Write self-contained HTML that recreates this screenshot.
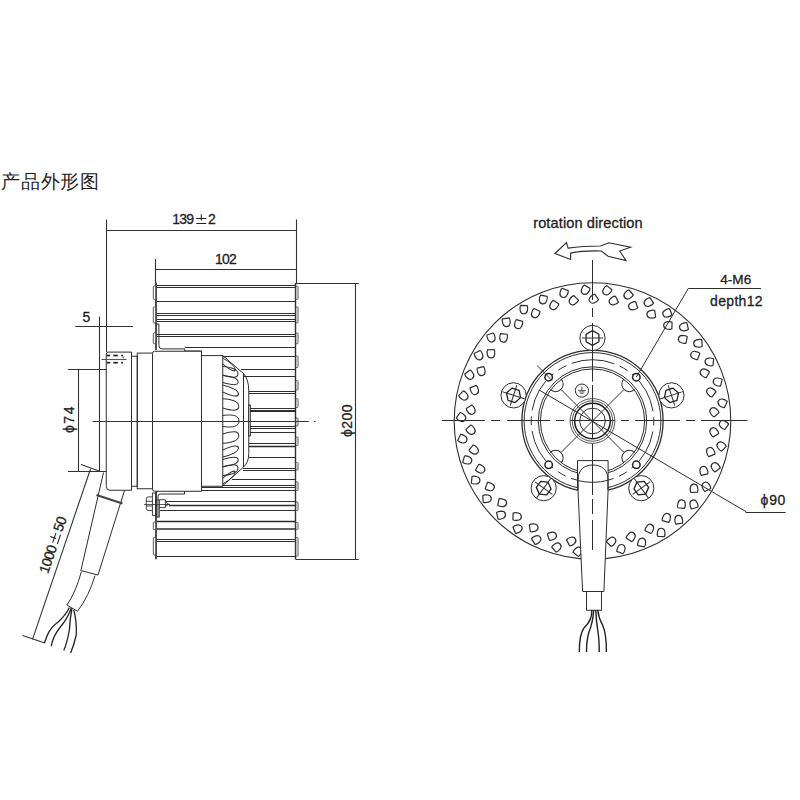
<!DOCTYPE html>
<html><head><meta charset="utf-8"><style>
html,body{margin:0;padding:0;background:#fff;width:800px;height:800px;overflow:hidden}
svg{display:block}
</style></head><body>
<svg width="800" height="800" viewBox="0 0 800 800">
<rect width="800" height="800" fill="#fff"/>
<line x1="106.50" y1="219.50" x2="106.50" y2="352.00" stroke="#333" stroke-width="1.1" />
<line x1="106.25" y1="230.50" x2="296.25" y2="230.50" stroke="#333" stroke-width="1.1" />
<line x1="296.50" y1="219.50" x2="296.50" y2="283.00" stroke="#333" stroke-width="1.1" />
<line x1="155.50" y1="259.00" x2="155.50" y2="283.00" stroke="#333" stroke-width="1.1" />
<line x1="155.50" y1="269.50" x2="296.25" y2="269.50" stroke="#333" stroke-width="1.1" />
<line x1="296.00" y1="283.50" x2="358.75" y2="283.50" stroke="#333" stroke-width="1.1" />
<line x1="296.00" y1="559.50" x2="358.75" y2="559.50" stroke="#333" stroke-width="1.1" />
<line x1="355.50" y1="283.00" x2="355.50" y2="559.40" stroke="#333" stroke-width="1.1" />
<line x1="75.25" y1="326.50" x2="133.00" y2="326.50" stroke="#333" stroke-width="1.1" />
<line x1="99.50" y1="316.50" x2="99.50" y2="471.50" stroke="#333" stroke-width="1.1" />
<line x1="68.10" y1="369.50" x2="106.25" y2="369.50" stroke="#333" stroke-width="1.1" />
<line x1="68.00" y1="471.50" x2="106.25" y2="471.50" stroke="#333" stroke-width="1.1" />
<line x1="78.50" y1="369.75" x2="78.50" y2="471.50" stroke="#333" stroke-width="1.1" />
<line x1="81.00" y1="464.50" x2="100.50" y2="471.50" stroke="#333" stroke-width="1.1" />
<line x1="90.50" y1="469.00" x2="32.50" y2="639.40" stroke="#333" stroke-width="1.1" />
<line x1="22.50" y1="635.60" x2="45.00" y2="643.10" stroke="#333" stroke-width="1.1" />
<line x1="157.00" y1="285.50" x2="295.60" y2="285.50" stroke="#2e2e2e" stroke-width="1.0" />
<line x1="157.00" y1="287.50" x2="295.60" y2="287.50" stroke="#2e2e2e" stroke-width="1.0" />
<line x1="157.00" y1="301.50" x2="295.60" y2="301.50" stroke="#2e2e2e" stroke-width="1.2" />
<line x1="157.00" y1="313.50" x2="295.60" y2="313.50" stroke="#2e2e2e" stroke-width="1.0" />
<line x1="157.00" y1="315.50" x2="295.60" y2="315.50" stroke="#2e2e2e" stroke-width="1.0" />
<line x1="157.00" y1="319.50" x2="295.60" y2="319.50" stroke="#2e2e2e" stroke-width="1.0" />
<line x1="157.00" y1="321.50" x2="295.60" y2="321.50" stroke="#2e2e2e" stroke-width="1.0" />
<line x1="157.00" y1="334.50" x2="295.60" y2="334.50" stroke="#2e2e2e" stroke-width="1.0" />
<line x1="157.00" y1="336.50" x2="295.60" y2="336.50" stroke="#2e2e2e" stroke-width="1.0" />
<line x1="157.00" y1="490.50" x2="295.60" y2="490.50" stroke="#2e2e2e" stroke-width="1.0" />
<line x1="157.00" y1="521.50" x2="295.60" y2="521.50" stroke="#2e2e2e" stroke-width="1.4" />
<line x1="157.00" y1="529.00" x2="295.60" y2="529.00" stroke="#2e2e2e" stroke-width="1.4" />
<line x1="157.00" y1="539.50" x2="295.60" y2="539.50" stroke="#2e2e2e" stroke-width="1.0" />
<line x1="157.00" y1="541.50" x2="295.60" y2="541.50" stroke="#2e2e2e" stroke-width="1.0" />
<line x1="157.00" y1="556.50" x2="295.60" y2="556.50" stroke="#2e2e2e" stroke-width="1.0" />
<line x1="184.70" y1="347.50" x2="295.60" y2="347.50" stroke="#2e2e2e" stroke-width="1.0" />
<line x1="222.75" y1="356.50" x2="295.60" y2="356.50" stroke="#2e2e2e" stroke-width="1.0" />
<line x1="241.00" y1="369.50" x2="295.60" y2="369.50" stroke="#2e2e2e" stroke-width="1.0" />
<line x1="244.00" y1="376.50" x2="295.60" y2="376.50" stroke="#2e2e2e" stroke-width="1.0" />
<line x1="248.75" y1="391.50" x2="295.60" y2="391.50" stroke="#2e2e2e" stroke-width="1.0" />
<line x1="248.75" y1="393.50" x2="295.60" y2="393.50" stroke="#2e2e2e" stroke-width="1.0" />
<line x1="250.00" y1="408.50" x2="295.60" y2="408.50" stroke="#2e2e2e" stroke-width="1.2" />
<line x1="250.00" y1="411.00" x2="295.60" y2="411.00" stroke="#2e2e2e" stroke-width="1.8" />
<line x1="250.00" y1="426.50" x2="295.60" y2="426.50" stroke="#2e2e2e" stroke-width="1.0" />
<line x1="250.00" y1="428.50" x2="295.60" y2="428.50" stroke="#2e2e2e" stroke-width="1.0" />
<line x1="250.00" y1="432.50" x2="295.60" y2="432.50" stroke="#2e2e2e" stroke-width="1.0" />
<line x1="249.00" y1="443.50" x2="295.60" y2="443.50" stroke="#2e2e2e" stroke-width="1.0" />
<line x1="249.00" y1="446.50" x2="295.60" y2="446.50" stroke="#2e2e2e" stroke-width="1.6" />
<line x1="248.75" y1="457.50" x2="295.60" y2="457.50" stroke="#2e2e2e" stroke-width="1.0" />
<line x1="243.00" y1="468.50" x2="295.60" y2="468.50" stroke="#2e2e2e" stroke-width="1.0" />
<line x1="243.00" y1="470.50" x2="295.60" y2="470.50" stroke="#2e2e2e" stroke-width="1.0" />
<line x1="232.00" y1="479.50" x2="295.60" y2="479.50" stroke="#2e2e2e" stroke-width="1.0" />
<line x1="201.50" y1="485.50" x2="295.60" y2="485.50" stroke="#2e2e2e" stroke-width="1.0" />
<line x1="201.50" y1="487.50" x2="295.60" y2="487.50" stroke="#2e2e2e" stroke-width="1.0" />
<line x1="165.50" y1="501.50" x2="295.60" y2="501.50" stroke="#2e2e2e" stroke-width="1.0" />
<line x1="169.00" y1="505.50" x2="295.60" y2="505.50" stroke="#2e2e2e" stroke-width="1.5" />
<line x1="160.00" y1="510.50" x2="295.60" y2="510.50" stroke="#2e2e2e" stroke-width="1.0" />
<line x1="156.00" y1="282.50" x2="156.00" y2="350.00" stroke="#222" stroke-width="1.6" />
<line x1="156.00" y1="491.80" x2="156.00" y2="559.30" stroke="#222" stroke-width="1.6" />
<line x1="295.50" y1="283.00" x2="295.50" y2="559.40" stroke="#2e2e2e" stroke-width="1.4" />
<rect x="153.30" y="286.00" width="2.40" height="13.40" rx="0.8" stroke="#333" stroke-width="0.8" fill="#fff"/>
<rect x="153.30" y="306.90" width="2.40" height="16.10" rx="0.8" stroke="#333" stroke-width="0.8" fill="#fff"/>
<rect x="153.30" y="333.00" width="2.40" height="10.75" rx="0.8" stroke="#333" stroke-width="0.8" fill="#fff"/>
<rect x="153.30" y="522.00" width="2.40" height="7.50" rx="0.8" stroke="#333" stroke-width="0.8" fill="#fff"/>
<rect x="153.30" y="537.40" width="2.40" height="17.40" rx="0.8" stroke="#333" stroke-width="0.8" fill="#fff"/>
<rect x="295.90" y="286.00" width="2.10" height="13.40" rx="0.8" stroke="#333" stroke-width="0.8" fill="#fff"/>
<rect x="295.90" y="306.90" width="2.10" height="16.10" rx="0.8" stroke="#333" stroke-width="0.8" fill="#fff"/>
<rect x="295.90" y="333.00" width="2.10" height="10.75" rx="0.8" stroke="#333" stroke-width="0.8" fill="#fff"/>
<rect x="295.90" y="356.00" width="2.10" height="11.50" rx="0.8" stroke="#333" stroke-width="0.8" fill="#fff"/>
<rect x="295.90" y="380.60" width="2.10" height="9.40" rx="0.8" stroke="#333" stroke-width="0.8" fill="#fff"/>
<rect x="295.90" y="398.75" width="2.10" height="8.75" rx="0.8" stroke="#333" stroke-width="0.8" fill="#fff"/>
<rect x="295.90" y="418.00" width="2.10" height="8.00" rx="0.8" stroke="#333" stroke-width="0.8" fill="#fff"/>
<rect x="295.90" y="437.00" width="2.10" height="8.60" rx="0.8" stroke="#333" stroke-width="0.8" fill="#fff"/>
<rect x="295.90" y="462.50" width="2.10" height="7.50" rx="0.8" stroke="#333" stroke-width="0.8" fill="#fff"/>
<rect x="295.90" y="481.90" width="2.10" height="8.70" rx="0.8" stroke="#333" stroke-width="0.8" fill="#fff"/>
<rect x="295.90" y="501.90" width="2.10" height="8.70" rx="0.8" stroke="#333" stroke-width="0.8" fill="#fff"/>
<rect x="295.90" y="522.50" width="2.10" height="6.90" rx="0.8" stroke="#333" stroke-width="0.8" fill="#fff"/>
<rect x="295.90" y="537.50" width="2.10" height="18.75" rx="0.8" stroke="#333" stroke-width="0.8" fill="#fff"/>
<path d="M156.5,324 L158.9,324 L158.9,345.5 Q158.9,348.9 162,348.9 L184.7,348.9 L184.7,351 L201.5,351" stroke="#2e2e2e" stroke-width="1" fill="none" />
<path d="M156,491.8 L158,491.8 M158,517.1 L158,496 Q158,494 160.5,494 L184.5,494 L184.5,490.7 L201.5,490.7" stroke="#2e2e2e" stroke-width="1" fill="none" />
<rect x="155.80" y="500.00" width="3.50" height="17.10" rx="0" stroke="#2e2e2e" stroke-width="0.9" fill="none"/>
<rect x="152.40" y="493.00" width="3.40" height="22.40" rx="0" stroke="#2e2e2e" stroke-width="0.9" fill="none"/>
<path d="M152.4,496.9 L148,496.9 Q146.25,496.9 146.25,499 L146.25,508.3 Q146.25,510.4 148,510.4 L152.4,510.4 M146.25,501.3 L152.4,501.3 M146.25,506 L152.4,506" stroke="#2e2e2e" stroke-width="0.9" fill="none" />
<path d="M159.3,499.7 L165.4,499.7 L165.4,507.6 L159.3,507.6 M165.4,502 L168.75,504.2 L165.4,506.4" stroke="#2e2e2e" stroke-width="0.9" fill="none" />
<line x1="144.00" y1="504.50" x2="170.00" y2="504.50" stroke="#2e2e2e" stroke-width="0.8" />
<path d="M106.25,354 Q106.25,352.1 108.25,352.1 L131.5,352.1 L131.5,490.25 L110,490.25 Q106.25,490.25 106.25,486.5 Z" stroke="#2e2e2e" stroke-width="1" fill="none" />
<line x1="106.5" y1="355.5" x2="110.2" y2="355.5" stroke="#222" stroke-width="1.7"/>
<line x1="113.3" y1="355.5" x2="117.8" y2="355.5" stroke="#222" stroke-width="1.7"/>
<line x1="121.2" y1="355.5" x2="122.9" y2="355.5" stroke="#222" stroke-width="1.7"/>
<line x1="106.5" y1="362.7" x2="110.2" y2="362.7" stroke="#222" stroke-width="1.7"/>
<line x1="113.3" y1="362.7" x2="117.8" y2="362.7" stroke="#222" stroke-width="1.7"/>
<line x1="121.2" y1="362.7" x2="122.9" y2="362.7" stroke="#222" stroke-width="1.7"/>
<line x1="101.50" y1="359.50" x2="126.50" y2="359.50" stroke="#555" stroke-width="1.1" />
<path d="M122,355.6 Q123.5,356.5 123.2,358.2" stroke="#2e2e2e" stroke-width="0.9" fill="none" />
<rect x="131.50" y="356.25" width="5.75" height="130.00" rx="0" stroke="#2e2e2e" stroke-width="1" fill="none"/>
<rect x="137.25" y="353.10" width="15.25" height="135.65" rx="0" stroke="#2e2e2e" stroke-width="1" fill="none"/>
<path d="M152.5,353.5 Q152.5,351.25 154.5,351.25 L201.5,351.25 L201.5,491.25 L154.5,491.25 Q152.5,491.25 152.5,489 Z" stroke="#2e2e2e" stroke-width="1" fill="#fff" />
<rect x="201.50" y="355.60" width="21.25" height="130.65" rx="0" stroke="#2e2e2e" stroke-width="1" fill="#fff"/>
<path d="M222.75,355.6 L243.75,373.75 Q248.75,380 248.75,390.6 L248.75,453.75 Q248.75,462 243.75,466.9 L222.75,485.6" stroke="#2e2e2e" stroke-width="1" fill="none" />
<line x1="243.50" y1="373.75" x2="243.50" y2="466.90" stroke="#2e2e2e" stroke-width="1" />
<rect x="248.75" y="405.00" width="1.80" height="31.00" rx="0" stroke="#2e2e2e" stroke-width="0.8" fill="none"/>
<path d="M0,-3.00 C7.35,-3.75 12.25,-3.15 12.25,0 C12.25,3.15 7.35,3.75 0,3.00" transform="matrix(1,0.6939,0,1,222.75,361.00)" stroke="#2e2e2e" stroke-width="1" fill="none"/>
<path d="M0,-4.25 C9.15,-5.31 15.25,-4.46 15.25,0 C15.25,4.46 9.15,5.31 0,4.25" transform="matrix(1,0.2000,0,1,222.75,370.75)" stroke="#2e2e2e" stroke-width="1" fill="none"/>
<path d="M0,-3.50 C9.27,-4.38 15.45,-3.68 15.45,0 C15.45,3.68 9.27,4.38 0,3.50" transform="matrix(1,0.1942,0,1,222.75,379.00)" stroke="#2e2e2e" stroke-width="1" fill="none"/>
<path d="M0,-3.50 C9.39,-4.38 15.65,-3.68 15.65,0 C15.65,3.68 9.39,4.38 0,3.50" transform="matrix(1,0.3514,0,1,222.75,388.50)" stroke="#2e2e2e" stroke-width="1" fill="none"/>
<path d="M0,-4.65 C9.63,-5.81 16.05,-4.88 16.05,0 C16.05,4.88 9.63,5.81 0,4.65" transform="matrix(1,0.1900,0,1,222.75,403.35)" stroke="#2e2e2e" stroke-width="1" fill="none"/>
<path d="M0,-5.50 C9.75,-6.88 16.25,-5.78 16.25,0 C16.25,5.78 9.75,6.88 0,5.50" transform="matrix(1,0.0000,0,1,222.75,421.00)" stroke="#2e2e2e" stroke-width="1" fill="none"/>
<path d="M0,-4.65 C9.63,-5.81 16.05,-4.88 16.05,0 C16.05,4.88 9.63,5.81 0,4.65" transform="matrix(1,-0.1900,0,1,222.75,438.65)" stroke="#2e2e2e" stroke-width="1" fill="none"/>
<path d="M0,-3.50 C9.39,-4.38 15.65,-3.68 15.65,0 C15.65,3.68 9.39,4.38 0,3.50" transform="matrix(1,-0.3514,0,1,222.75,453.50)" stroke="#2e2e2e" stroke-width="1" fill="none"/>
<path d="M0,-3.50 C9.27,-4.38 15.45,-3.68 15.45,0 C15.45,3.68 9.27,4.38 0,3.50" transform="matrix(1,-0.1942,0,1,222.75,463.00)" stroke="#2e2e2e" stroke-width="1" fill="none"/>
<path d="M0,-4.25 C9.15,-5.31 15.25,-4.46 15.25,0 C15.25,4.46 9.15,5.31 0,4.25" transform="matrix(1,-0.2000,0,1,222.75,471.25)" stroke="#2e2e2e" stroke-width="1" fill="none"/>
<path d="M0,-3.00 C7.35,-3.75 12.25,-3.15 12.25,0 C12.25,3.15 7.35,3.75 0,3.00" transform="matrix(1,-0.6939,0,1,222.75,481.00)" stroke="#2e2e2e" stroke-width="1" fill="none"/>
<line x1="92.50" y1="421.50" x2="308.75" y2="421.50" stroke="#333" stroke-width="1.1" />
<line x1="314.00" y1="421.50" x2="315.50" y2="421.50" stroke="#333" stroke-width="1.1" />
<path d="M103.5,472.5 L80.9,570.6" stroke="#2e2e2e" stroke-width="1" fill="none" />
<path d="M124.5,490.5 L98,575" stroke="#2e2e2e" stroke-width="1" fill="none" />
<line x1="96.50" y1="495.00" x2="122.50" y2="503.50" stroke="#444" stroke-width="2.2" />
<line x1="80.90" y1="570.60" x2="98.00" y2="575.00" stroke="#2e2e2e" stroke-width="1" />
<path d="M81.25,571.9 Q76,592 66.9,605" stroke="#2e2e2e" stroke-width="1" fill="none" />
<path d="M95,575.6 Q89,596 77.5,611.25" stroke="#2e2e2e" stroke-width="1" fill="none" />
<line x1="66.90" y1="605.00" x2="77.50" y2="611.25" stroke="#2e2e2e" stroke-width="1" />
<path d="M69.4,607.5 Q66,615 57.5,622.5 Q50,628 47,636 L44.4,643" stroke="#222" stroke-width="1.3" fill="none" />
<path d="M71.25,608 Q68,618 60,627.5 Q53,636 51.25,646.25" stroke="#222" stroke-width="1.3" fill="none" />
<path d="M71.9,609 Q70,618 69.4,630 Q67,643 63.75,650.6" stroke="#222" stroke-width="1.3" fill="none" />
<path d="M73.75,610 Q77,622 76.25,635 Q74,645 70.6,653.1" stroke="#222" stroke-width="1.3" fill="none" />
<text x="1.00" y="187.90" font-size="19.0" font-family="Liberation Sans, sans-serif" fill="#1e1e1e" stroke="#1e1e1e" stroke-width="0" textLength="98" lengthAdjust="spacing" >产品外形图</text>
<text x="172.20" y="224.35" font-size="14" font-family="Liberation Sans, sans-serif" fill="#1e1e1e" stroke="#1e1e1e" stroke-width="0.3" textLength="21.9" lengthAdjust="spacing" >139</text>
<text x="207.90" y="224.35" font-size="14" font-family="Liberation Sans, sans-serif" fill="#1e1e1e" stroke="#1e1e1e" stroke-width="0.3" textLength="8" lengthAdjust="spacing" >2</text>
<path d="M201.25,214.20 L201.25,220.40 M196.25,218.52 L206.25,218.52 M196.25,223.41 L206.25,223.41" stroke="#1e1e1e" stroke-width="1.05" fill="none"/>
<text x="214.90" y="263.70" font-size="14" font-family="Liberation Sans, sans-serif" fill="#1e1e1e" stroke="#1e1e1e" stroke-width="0.3" textLength="21.8" lengthAdjust="spacing" >102</text>
<text x="82.60" y="321.60" font-size="14" font-family="Liberation Sans, sans-serif" fill="#1e1e1e" stroke="#1e1e1e" stroke-width="0.3" textLength="8" lengthAdjust="spacing" >5</text>
<text x="73.75" y="433.00" font-size="14" font-family="Liberation Sans, sans-serif" fill="#1e1e1e" stroke="#1e1e1e" stroke-width="0.3" textLength="26.5" lengthAdjust="spacing" transform="rotate(-90 73.75 433)">ϕ74</text>
<text x="352.00" y="437.00" font-size="14" font-family="Liberation Sans, sans-serif" fill="#1e1e1e" stroke="#1e1e1e" stroke-width="0.3" textLength="32.5" lengthAdjust="spacing" transform="rotate(-90 352 437)">ϕ200</text>
<g transform="translate(47.9,574.2) rotate(-71.2)">
<text x="0" y="0" font-size="14" font-family="Liberation Sans, sans-serif" fill="#1e1e1e" stroke="#1e1e1e" stroke-width="0.3" textLength="29" lengthAdjust="spacing">1000</text>
<path d="M36.50,-10.00 L36.50,-3.80 M31.50,-5.68 L41.50,-5.68 M31.50,-0.79 L41.50,-0.79" stroke="#1e1e1e" stroke-width="1.05" fill="none"/>
<text x="44" y="0" font-size="14" font-family="Liberation Sans, sans-serif" fill="#1e1e1e" stroke="#1e1e1e" stroke-width="0.3" textLength="15" lengthAdjust="spacing">50</text>
</g>
<circle cx="592.50" cy="421.00" r="138.30" stroke="#2e2e2e" stroke-width="1.1" fill="none" />
<path d="M-3.3,-4 L3.3,-4 C3.9,-3.2 4.1,-1.5 3.6,1.2 C3.0,3.8 1.8,4.3 0,4.3 C-1.8,4.3 -3.0,3.8 -3.6,1.2 C-4.1,-1.5 -3.9,-3.2 -3.3,-4 Z" transform="translate(585.19,290.20) rotate(29.8) scale(1.0)" stroke="#2e2e2e" stroke-width="1.2" vector-effect="non-scaling-stroke" fill="none" stroke-linejoin="round"/>
<path d="M-3.3,-4 L3.3,-4 C3.9,-3.2 4.1,-1.5 3.6,1.2 C3.0,3.8 1.8,4.3 0,4.3 C-1.8,4.3 -3.0,3.8 -3.6,1.2 C-4.1,-1.5 -3.9,-3.2 -3.3,-4 Z" transform="translate(593.35,299.20) rotate(53.4) scale(1.0)" stroke="#2e2e2e" stroke-width="1.2" vector-effect="non-scaling-stroke" fill="none" stroke-linejoin="round"/>
<path d="M-3.3,-4 L3.3,-4 C3.9,-3.2 4.1,-1.5 3.6,1.2 C3.0,3.8 1.8,4.3 0,4.3 C-1.8,4.3 -3.0,3.8 -3.6,1.2 C-4.1,-1.5 -3.9,-3.2 -3.3,-4 Z" transform="translate(606.82,290.78) rotate(39.3) scale(1.0)" stroke="#2e2e2e" stroke-width="1.2" vector-effect="non-scaling-stroke" fill="none" stroke-linejoin="round"/>
<path d="M-3.3,-4 L3.3,-4 C3.9,-3.2 4.1,-1.5 3.6,1.2 C3.0,3.8 1.8,4.3 0,4.3 C-1.8,4.3 -3.0,3.8 -3.6,1.2 C-4.1,-1.5 -3.9,-3.2 -3.3,-4 Z" transform="translate(613.39,301.00) rotate(62.9) scale(1.0)" stroke="#2e2e2e" stroke-width="1.2" vector-effect="non-scaling-stroke" fill="none" stroke-linejoin="round"/>
<path d="M-3.3,-4 L3.3,-4 C3.9,-3.2 4.1,-1.5 3.6,1.2 C3.0,3.8 1.8,4.3 0,4.3 C-1.8,4.3 -3.0,3.8 -3.6,1.2 C-4.1,-1.5 -3.9,-3.2 -3.3,-4 Z" transform="translate(628.05,294.92) rotate(48.7) scale(1.0)" stroke="#2e2e2e" stroke-width="1.2" vector-effect="non-scaling-stroke" fill="none" stroke-linejoin="round"/>
<path d="M-3.3,-4 L3.3,-4 C3.9,-3.2 4.1,-1.5 3.6,1.2 C3.0,3.8 1.8,4.3 0,4.3 C-1.8,4.3 -3.0,3.8 -3.6,1.2 C-4.1,-1.5 -3.9,-3.2 -3.3,-4 Z" transform="translate(632.85,306.08) rotate(72.3) scale(1.0)" stroke="#2e2e2e" stroke-width="1.2" vector-effect="non-scaling-stroke" fill="none" stroke-linejoin="round"/>
<path d="M-3.3,-4 L3.3,-4 C3.9,-3.2 4.1,-1.5 3.6,1.2 C3.0,3.8 1.8,4.3 0,4.3 C-1.8,4.3 -3.0,3.8 -3.6,1.2 C-4.1,-1.5 -3.9,-3.2 -3.3,-4 Z" transform="translate(648.32,302.49) rotate(58.2) scale(1.0)" stroke="#2e2e2e" stroke-width="1.2" vector-effect="non-scaling-stroke" fill="none" stroke-linejoin="round"/>
<path d="M-3.3,-4 L3.3,-4 C3.9,-3.2 4.1,-1.5 3.6,1.2 C3.0,3.8 1.8,4.3 0,4.3 C-1.8,4.3 -3.0,3.8 -3.6,1.2 C-4.1,-1.5 -3.9,-3.2 -3.3,-4 Z" transform="translate(651.22,314.29) rotate(81.8) scale(1.0)" stroke="#2e2e2e" stroke-width="1.2" vector-effect="non-scaling-stroke" fill="none" stroke-linejoin="round"/>
<path d="M-3.3,-4 L3.3,-4 C3.9,-3.2 4.1,-1.5 3.6,1.2 C3.0,3.8 1.8,4.3 0,4.3 C-1.8,4.3 -3.0,3.8 -3.6,1.2 C-4.1,-1.5 -3.9,-3.2 -3.3,-4 Z" transform="translate(667.07,313.29) rotate(67.7) scale(1.0)" stroke="#2e2e2e" stroke-width="1.2" vector-effect="non-scaling-stroke" fill="none" stroke-linejoin="round"/>
<path d="M-3.3,-4 L3.3,-4 C3.9,-3.2 4.1,-1.5 3.6,1.2 C3.0,3.8 1.8,4.3 0,4.3 C-1.8,4.3 -3.0,3.8 -3.6,1.2 C-4.1,-1.5 -3.9,-3.2 -3.3,-4 Z" transform="translate(667.98,325.41) rotate(91.3) scale(1.0)" stroke="#2e2e2e" stroke-width="1.2" vector-effect="non-scaling-stroke" fill="none" stroke-linejoin="round"/>
<path d="M-3.3,-4 L3.3,-4 C3.9,-3.2 4.1,-1.5 3.6,1.2 C3.0,3.8 1.8,4.3 0,4.3 C-1.8,4.3 -3.0,3.8 -3.6,1.2 C-4.1,-1.5 -3.9,-3.2 -3.3,-4 Z" transform="translate(683.78,327.03) rotate(77.2) scale(1.0)" stroke="#2e2e2e" stroke-width="1.2" vector-effect="non-scaling-stroke" fill="none" stroke-linejoin="round"/>
<path d="M-3.3,-4 L3.3,-4 C3.9,-3.2 4.1,-1.5 3.6,1.2 C3.0,3.8 1.8,4.3 0,4.3 C-1.8,4.3 -3.0,3.8 -3.6,1.2 C-4.1,-1.5 -3.9,-3.2 -3.3,-4 Z" transform="translate(682.68,339.13) rotate(100.8) scale(1.0)" stroke="#2e2e2e" stroke-width="1.2" vector-effect="non-scaling-stroke" fill="none" stroke-linejoin="round"/>
<path d="M-3.3,-4 L3.3,-4 C3.9,-3.2 4.1,-1.5 3.6,1.2 C3.0,3.8 1.8,4.3 0,4.3 C-1.8,4.3 -3.0,3.8 -3.6,1.2 C-4.1,-1.5 -3.9,-3.2 -3.3,-4 Z" transform="translate(698.00,343.34) rotate(86.6) scale(1.0)" stroke="#2e2e2e" stroke-width="1.2" vector-effect="non-scaling-stroke" fill="none" stroke-linejoin="round"/>
<path d="M-3.3,-4 L3.3,-4 C3.9,-3.2 4.1,-1.5 3.6,1.2 C3.0,3.8 1.8,4.3 0,4.3 C-1.8,4.3 -3.0,3.8 -3.6,1.2 C-4.1,-1.5 -3.9,-3.2 -3.3,-4 Z" transform="translate(694.93,355.10) rotate(110.2) scale(1.0)" stroke="#2e2e2e" stroke-width="1.2" vector-effect="non-scaling-stroke" fill="none" stroke-linejoin="round"/>
<path d="M-3.3,-4 L3.3,-4 C3.9,-3.2 4.1,-1.5 3.6,1.2 C3.0,3.8 1.8,4.3 0,4.3 C-1.8,4.3 -3.0,3.8 -3.6,1.2 C-4.1,-1.5 -3.9,-3.2 -3.3,-4 Z" transform="translate(709.34,361.76) rotate(96.1) scale(1.0)" stroke="#2e2e2e" stroke-width="1.2" vector-effect="non-scaling-stroke" fill="none" stroke-linejoin="round"/>
<path d="M-3.3,-4 L3.3,-4 C3.9,-3.2 4.1,-1.5 3.6,1.2 C3.0,3.8 1.8,4.3 0,4.3 C-1.8,4.3 -3.0,3.8 -3.6,1.2 C-4.1,-1.5 -3.9,-3.2 -3.3,-4 Z" transform="translate(704.38,372.85) rotate(119.7) scale(1.0)" stroke="#2e2e2e" stroke-width="1.2" vector-effect="non-scaling-stroke" fill="none" stroke-linejoin="round"/>
<path d="M-3.3,-4 L3.3,-4 C3.9,-3.2 4.1,-1.5 3.6,1.2 C3.0,3.8 1.8,4.3 0,4.3 C-1.8,4.3 -3.0,3.8 -3.6,1.2 C-4.1,-1.5 -3.9,-3.2 -3.3,-4 Z" transform="translate(717.50,381.80) rotate(105.6) scale(1.0)" stroke="#2e2e2e" stroke-width="1.2" vector-effect="non-scaling-stroke" fill="none" stroke-linejoin="round"/>
<path d="M-3.3,-4 L3.3,-4 C3.9,-3.2 4.1,-1.5 3.6,1.2 C3.0,3.8 1.8,4.3 0,4.3 C-1.8,4.3 -3.0,3.8 -3.6,1.2 C-4.1,-1.5 -3.9,-3.2 -3.3,-4 Z" transform="translate(710.78,391.92) rotate(129.2) scale(1.0)" stroke="#2e2e2e" stroke-width="1.2" vector-effect="non-scaling-stroke" fill="none" stroke-linejoin="round"/>
<path d="M-3.3,-4 L3.3,-4 C3.9,-3.2 4.1,-1.5 3.6,1.2 C3.0,3.8 1.8,4.3 0,4.3 C-1.8,4.3 -3.0,3.8 -3.6,1.2 C-4.1,-1.5 -3.9,-3.2 -3.3,-4 Z" transform="translate(722.25,402.91) rotate(115.1) scale(1.0)" stroke="#2e2e2e" stroke-width="1.2" vector-effect="non-scaling-stroke" fill="none" stroke-linejoin="round"/>
<path d="M-3.3,-4 L3.3,-4 C3.9,-3.2 4.1,-1.5 3.6,1.2 C3.0,3.8 1.8,4.3 0,4.3 C-1.8,4.3 -3.0,3.8 -3.6,1.2 C-4.1,-1.5 -3.9,-3.2 -3.3,-4 Z" transform="translate(713.95,411.79) rotate(138.7) scale(1.0)" stroke="#2e2e2e" stroke-width="1.2" vector-effect="non-scaling-stroke" fill="none" stroke-linejoin="round"/>
<path d="M-3.3,-4 L3.3,-4 C3.9,-3.2 4.1,-1.5 3.6,1.2 C3.0,3.8 1.8,4.3 0,4.3 C-1.8,4.3 -3.0,3.8 -3.6,1.2 C-4.1,-1.5 -3.9,-3.2 -3.3,-4 Z" transform="translate(723.45,424.51) rotate(124.5) scale(1.0)" stroke="#2e2e2e" stroke-width="1.2" vector-effect="non-scaling-stroke" fill="none" stroke-linejoin="round"/>
<path d="M-3.3,-4 L3.3,-4 C3.9,-3.2 4.1,-1.5 3.6,1.2 C3.0,3.8 1.8,4.3 0,4.3 C-1.8,4.3 -3.0,3.8 -3.6,1.2 C-4.1,-1.5 -3.9,-3.2 -3.3,-4 Z" transform="translate(713.81,431.91) rotate(148.1) scale(1.0)" stroke="#2e2e2e" stroke-width="1.2" vector-effect="non-scaling-stroke" fill="none" stroke-linejoin="round"/>
<path d="M-3.3,-4 L3.3,-4 C3.9,-3.2 4.1,-1.5 3.6,1.2 C3.0,3.8 1.8,4.3 0,4.3 C-1.8,4.3 -3.0,3.8 -3.6,1.2 C-4.1,-1.5 -3.9,-3.2 -3.3,-4 Z" transform="translate(721.09,446.02) rotate(134.0) scale(1.0)" stroke="#2e2e2e" stroke-width="1.2" vector-effect="non-scaling-stroke" fill="none" stroke-linejoin="round"/>
<path d="M-3.3,-4 L3.3,-4 C3.9,-3.2 4.1,-1.5 3.6,1.2 C3.0,3.8 1.8,4.3 0,4.3 C-1.8,4.3 -3.0,3.8 -3.6,1.2 C-4.1,-1.5 -3.9,-3.2 -3.3,-4 Z" transform="translate(710.36,451.72) rotate(157.6) scale(1.0)" stroke="#2e2e2e" stroke-width="1.2" vector-effect="non-scaling-stroke" fill="none" stroke-linejoin="round"/>
<path d="M-3.3,-4 L3.3,-4 C3.9,-3.2 4.1,-1.5 3.6,1.2 C3.0,3.8 1.8,4.3 0,4.3 C-1.8,4.3 -3.0,3.8 -3.6,1.2 C-4.1,-1.5 -3.9,-3.2 -3.3,-4 Z" transform="translate(715.22,466.84) rotate(143.5) scale(1.0)" stroke="#2e2e2e" stroke-width="1.2" vector-effect="non-scaling-stroke" fill="none" stroke-linejoin="round"/>
<path d="M-3.3,-4 L3.3,-4 C3.9,-3.2 4.1,-1.5 3.6,1.2 C3.0,3.8 1.8,4.3 0,4.3 C-1.8,4.3 -3.0,3.8 -3.6,1.2 C-4.1,-1.5 -3.9,-3.2 -3.3,-4 Z" transform="translate(703.70,470.70) rotate(167.1) scale(1.0)" stroke="#2e2e2e" stroke-width="1.2" vector-effect="non-scaling-stroke" fill="none" stroke-linejoin="round"/>
<path d="M-3.3,-4 L3.3,-4 C3.9,-3.2 4.1,-1.5 3.6,1.2 C3.0,3.8 1.8,4.3 0,4.3 C-1.8,4.3 -3.0,3.8 -3.6,1.2 C-4.1,-1.5 -3.9,-3.2 -3.3,-4 Z" transform="translate(706.00,486.42) rotate(153.0) scale(1.0)" stroke="#2e2e2e" stroke-width="1.2" vector-effect="non-scaling-stroke" fill="none" stroke-linejoin="round"/>
<path d="M-3.3,-4 L3.3,-4 C3.9,-3.2 4.1,-1.5 3.6,1.2 C3.0,3.8 1.8,4.3 0,4.3 C-1.8,4.3 -3.0,3.8 -3.6,1.2 C-4.1,-1.5 -3.9,-3.2 -3.3,-4 Z" transform="translate(694.00,488.33) rotate(176.6) scale(1.0)" stroke="#2e2e2e" stroke-width="1.2" vector-effect="non-scaling-stroke" fill="none" stroke-linejoin="round"/>
<path d="M-3.3,-4 L3.3,-4 C3.9,-3.2 4.1,-1.5 3.6,1.2 C3.0,3.8 1.8,4.3 0,4.3 C-1.8,4.3 -3.0,3.8 -3.6,1.2 C-4.1,-1.5 -3.9,-3.2 -3.3,-4 Z" transform="translate(693.68,504.21) rotate(162.4) scale(1.0)" stroke="#2e2e2e" stroke-width="1.2" vector-effect="non-scaling-stroke" fill="none" stroke-linejoin="round"/>
<path d="M-3.3,-4 L3.3,-4 C3.9,-3.2 4.1,-1.5 3.6,1.2 C3.0,3.8 1.8,4.3 0,4.3 C-1.8,4.3 -3.0,3.8 -3.6,1.2 C-4.1,-1.5 -3.9,-3.2 -3.3,-4 Z" transform="translate(681.53,504.12) rotate(186.0) scale(1.0)" stroke="#2e2e2e" stroke-width="1.2" vector-effect="non-scaling-stroke" fill="none" stroke-linejoin="round"/>
<path d="M-3.3,-4 L3.3,-4 C3.9,-3.2 4.1,-1.5 3.6,1.2 C3.0,3.8 1.8,4.3 0,4.3 C-1.8,4.3 -3.0,3.8 -3.6,1.2 C-4.1,-1.5 -3.9,-3.2 -3.3,-4 Z" transform="translate(678.61,519.72) rotate(171.9) scale(1.0)" stroke="#2e2e2e" stroke-width="1.2" vector-effect="non-scaling-stroke" fill="none" stroke-linejoin="round"/>
<path d="M-3.3,-4 L3.3,-4 C3.9,-3.2 4.1,-1.5 3.6,1.2 C3.0,3.8 1.8,4.3 0,4.3 C-1.8,4.3 -3.0,3.8 -3.6,1.2 C-4.1,-1.5 -3.9,-3.2 -3.3,-4 Z" transform="translate(666.64,517.64) rotate(195.5) scale(1.0)" stroke="#2e2e2e" stroke-width="1.2" vector-effect="non-scaling-stroke" fill="none" stroke-linejoin="round"/>
<path d="M-3.3,-4 L3.3,-4 C3.9,-3.2 4.1,-1.5 3.6,1.2 C3.0,3.8 1.8,4.3 0,4.3 C-1.8,4.3 -3.0,3.8 -3.6,1.2 C-4.1,-1.5 -3.9,-3.2 -3.3,-4 Z" transform="translate(661.18,532.55) rotate(181.4) scale(1.0)" stroke="#2e2e2e" stroke-width="1.2" vector-effect="non-scaling-stroke" fill="none" stroke-linejoin="round"/>
<path d="M-3.3,-4 L3.3,-4 C3.9,-3.2 4.1,-1.5 3.6,1.2 C3.0,3.8 1.8,4.3 0,4.3 C-1.8,4.3 -3.0,3.8 -3.6,1.2 C-4.1,-1.5 -3.9,-3.2 -3.3,-4 Z" transform="translate(649.72,528.52) rotate(205.0) scale(1.0)" stroke="#2e2e2e" stroke-width="1.2" vector-effect="non-scaling-stroke" fill="none" stroke-linejoin="round"/>
<path d="M-3.3,-4 L3.3,-4 C3.9,-3.2 4.1,-1.5 3.6,1.2 C3.0,3.8 1.8,4.3 0,4.3 C-1.8,4.3 -3.0,3.8 -3.6,1.2 C-4.1,-1.5 -3.9,-3.2 -3.3,-4 Z" transform="translate(641.89,542.33) rotate(190.9) scale(1.0)" stroke="#2e2e2e" stroke-width="1.2" vector-effect="non-scaling-stroke" fill="none" stroke-linejoin="round"/>
<path d="M-3.3,-4 L3.3,-4 C3.9,-3.2 4.1,-1.5 3.6,1.2 C3.0,3.8 1.8,4.3 0,4.3 C-1.8,4.3 -3.0,3.8 -3.6,1.2 C-4.1,-1.5 -3.9,-3.2 -3.3,-4 Z" transform="translate(631.24,536.47) rotate(214.5) scale(1.0)" stroke="#2e2e2e" stroke-width="1.2" vector-effect="non-scaling-stroke" fill="none" stroke-linejoin="round"/>
<path d="M-3.3,-4 L3.3,-4 C3.9,-3.2 4.1,-1.5 3.6,1.2 C3.0,3.8 1.8,4.3 0,4.3 C-1.8,4.3 -3.0,3.8 -3.6,1.2 C-4.1,-1.5 -3.9,-3.2 -3.3,-4 Z" transform="translate(621.24,548.81) rotate(200.3) scale(1.0)" stroke="#2e2e2e" stroke-width="1.2" vector-effect="non-scaling-stroke" fill="none" stroke-linejoin="round"/>
<path d="M-3.3,-4 L3.3,-4 C3.9,-3.2 4.1,-1.5 3.6,1.2 C3.0,3.8 1.8,4.3 0,4.3 C-1.8,4.3 -3.0,3.8 -3.6,1.2 C-4.1,-1.5 -3.9,-3.2 -3.3,-4 Z" transform="translate(611.71,541.28) rotate(223.9) scale(1.0)" stroke="#2e2e2e" stroke-width="1.2" vector-effect="non-scaling-stroke" fill="none" stroke-linejoin="round"/>
<path d="M-3.3,-4 L3.3,-4 C3.9,-3.2 4.1,-1.5 3.6,1.2 C3.0,3.8 1.8,4.3 0,4.3 C-1.8,4.3 -3.0,3.8 -3.6,1.2 C-4.1,-1.5 -3.9,-3.2 -3.3,-4 Z" transform="translate(599.81,551.80) rotate(209.8) scale(1.0)" stroke="#2e2e2e" stroke-width="1.2" vector-effect="non-scaling-stroke" fill="none" stroke-linejoin="round"/>
<path d="M-3.3,-4 L3.3,-4 C3.9,-3.2 4.1,-1.5 3.6,1.2 C3.0,3.8 1.8,4.3 0,4.3 C-1.8,4.3 -3.0,3.8 -3.6,1.2 C-4.1,-1.5 -3.9,-3.2 -3.3,-4 Z" transform="translate(591.65,542.80) rotate(233.4) scale(1.0)" stroke="#2e2e2e" stroke-width="1.2" vector-effect="non-scaling-stroke" fill="none" stroke-linejoin="round"/>
<path d="M-3.3,-4 L3.3,-4 C3.9,-3.2 4.1,-1.5 3.6,1.2 C3.0,3.8 1.8,4.3 0,4.3 C-1.8,4.3 -3.0,3.8 -3.6,1.2 C-4.1,-1.5 -3.9,-3.2 -3.3,-4 Z" transform="translate(578.18,551.22) rotate(219.3) scale(1.0)" stroke="#2e2e2e" stroke-width="1.2" vector-effect="non-scaling-stroke" fill="none" stroke-linejoin="round"/>
<path d="M-3.3,-4 L3.3,-4 C3.9,-3.2 4.1,-1.5 3.6,1.2 C3.0,3.8 1.8,4.3 0,4.3 C-1.8,4.3 -3.0,3.8 -3.6,1.2 C-4.1,-1.5 -3.9,-3.2 -3.3,-4 Z" transform="translate(571.61,541.00) rotate(242.9) scale(1.0)" stroke="#2e2e2e" stroke-width="1.2" vector-effect="non-scaling-stroke" fill="none" stroke-linejoin="round"/>
<path d="M-3.3,-4 L3.3,-4 C3.9,-3.2 4.1,-1.5 3.6,1.2 C3.0,3.8 1.8,4.3 0,4.3 C-1.8,4.3 -3.0,3.8 -3.6,1.2 C-4.1,-1.5 -3.9,-3.2 -3.3,-4 Z" transform="translate(556.95,547.08) rotate(228.7) scale(1.0)" stroke="#2e2e2e" stroke-width="1.2" vector-effect="non-scaling-stroke" fill="none" stroke-linejoin="round"/>
<path d="M-3.3,-4 L3.3,-4 C3.9,-3.2 4.1,-1.5 3.6,1.2 C3.0,3.8 1.8,4.3 0,4.3 C-1.8,4.3 -3.0,3.8 -3.6,1.2 C-4.1,-1.5 -3.9,-3.2 -3.3,-4 Z" transform="translate(552.15,535.92) rotate(252.3) scale(1.0)" stroke="#2e2e2e" stroke-width="1.2" vector-effect="non-scaling-stroke" fill="none" stroke-linejoin="round"/>
<path d="M-3.3,-4 L3.3,-4 C3.9,-3.2 4.1,-1.5 3.6,1.2 C3.0,3.8 1.8,4.3 0,4.3 C-1.8,4.3 -3.0,3.8 -3.6,1.2 C-4.1,-1.5 -3.9,-3.2 -3.3,-4 Z" transform="translate(536.68,539.51) rotate(238.2) scale(1.0)" stroke="#2e2e2e" stroke-width="1.2" vector-effect="non-scaling-stroke" fill="none" stroke-linejoin="round"/>
<path d="M-3.3,-4 L3.3,-4 C3.9,-3.2 4.1,-1.5 3.6,1.2 C3.0,3.8 1.8,4.3 0,4.3 C-1.8,4.3 -3.0,3.8 -3.6,1.2 C-4.1,-1.5 -3.9,-3.2 -3.3,-4 Z" transform="translate(533.78,527.71) rotate(261.8) scale(1.0)" stroke="#2e2e2e" stroke-width="1.2" vector-effect="non-scaling-stroke" fill="none" stroke-linejoin="round"/>
<path d="M-3.3,-4 L3.3,-4 C3.9,-3.2 4.1,-1.5 3.6,1.2 C3.0,3.8 1.8,4.3 0,4.3 C-1.8,4.3 -3.0,3.8 -3.6,1.2 C-4.1,-1.5 -3.9,-3.2 -3.3,-4 Z" transform="translate(517.93,528.71) rotate(247.7) scale(1.0)" stroke="#2e2e2e" stroke-width="1.2" vector-effect="non-scaling-stroke" fill="none" stroke-linejoin="round"/>
<path d="M-3.3,-4 L3.3,-4 C3.9,-3.2 4.1,-1.5 3.6,1.2 C3.0,3.8 1.8,4.3 0,4.3 C-1.8,4.3 -3.0,3.8 -3.6,1.2 C-4.1,-1.5 -3.9,-3.2 -3.3,-4 Z" transform="translate(517.02,516.59) rotate(271.3) scale(1.0)" stroke="#2e2e2e" stroke-width="1.2" vector-effect="non-scaling-stroke" fill="none" stroke-linejoin="round"/>
<path d="M-3.3,-4 L3.3,-4 C3.9,-3.2 4.1,-1.5 3.6,1.2 C3.0,3.8 1.8,4.3 0,4.3 C-1.8,4.3 -3.0,3.8 -3.6,1.2 C-4.1,-1.5 -3.9,-3.2 -3.3,-4 Z" transform="translate(501.22,514.97) rotate(257.2) scale(1.0)" stroke="#2e2e2e" stroke-width="1.2" vector-effect="non-scaling-stroke" fill="none" stroke-linejoin="round"/>
<path d="M-3.3,-4 L3.3,-4 C3.9,-3.2 4.1,-1.5 3.6,1.2 C3.0,3.8 1.8,4.3 0,4.3 C-1.8,4.3 -3.0,3.8 -3.6,1.2 C-4.1,-1.5 -3.9,-3.2 -3.3,-4 Z" transform="translate(502.32,502.87) rotate(280.8) scale(1.0)" stroke="#2e2e2e" stroke-width="1.2" vector-effect="non-scaling-stroke" fill="none" stroke-linejoin="round"/>
<path d="M-3.3,-4 L3.3,-4 C3.9,-3.2 4.1,-1.5 3.6,1.2 C3.0,3.8 1.8,4.3 0,4.3 C-1.8,4.3 -3.0,3.8 -3.6,1.2 C-4.1,-1.5 -3.9,-3.2 -3.3,-4 Z" transform="translate(487.00,498.66) rotate(266.6) scale(1.0)" stroke="#2e2e2e" stroke-width="1.2" vector-effect="non-scaling-stroke" fill="none" stroke-linejoin="round"/>
<path d="M-3.3,-4 L3.3,-4 C3.9,-3.2 4.1,-1.5 3.6,1.2 C3.0,3.8 1.8,4.3 0,4.3 C-1.8,4.3 -3.0,3.8 -3.6,1.2 C-4.1,-1.5 -3.9,-3.2 -3.3,-4 Z" transform="translate(490.07,486.90) rotate(290.2) scale(1.0)" stroke="#2e2e2e" stroke-width="1.2" vector-effect="non-scaling-stroke" fill="none" stroke-linejoin="round"/>
<path d="M-3.3,-4 L3.3,-4 C3.9,-3.2 4.1,-1.5 3.6,1.2 C3.0,3.8 1.8,4.3 0,4.3 C-1.8,4.3 -3.0,3.8 -3.6,1.2 C-4.1,-1.5 -3.9,-3.2 -3.3,-4 Z" transform="translate(475.66,480.24) rotate(276.1) scale(1.0)" stroke="#2e2e2e" stroke-width="1.2" vector-effect="non-scaling-stroke" fill="none" stroke-linejoin="round"/>
<path d="M-3.3,-4 L3.3,-4 C3.9,-3.2 4.1,-1.5 3.6,1.2 C3.0,3.8 1.8,4.3 0,4.3 C-1.8,4.3 -3.0,3.8 -3.6,1.2 C-4.1,-1.5 -3.9,-3.2 -3.3,-4 Z" transform="translate(480.62,469.15) rotate(299.7) scale(1.0)" stroke="#2e2e2e" stroke-width="1.2" vector-effect="non-scaling-stroke" fill="none" stroke-linejoin="round"/>
<path d="M-3.3,-4 L3.3,-4 C3.9,-3.2 4.1,-1.5 3.6,1.2 C3.0,3.8 1.8,4.3 0,4.3 C-1.8,4.3 -3.0,3.8 -3.6,1.2 C-4.1,-1.5 -3.9,-3.2 -3.3,-4 Z" transform="translate(467.50,460.20) rotate(285.6) scale(1.0)" stroke="#2e2e2e" stroke-width="1.2" vector-effect="non-scaling-stroke" fill="none" stroke-linejoin="round"/>
<path d="M-3.3,-4 L3.3,-4 C3.9,-3.2 4.1,-1.5 3.6,1.2 C3.0,3.8 1.8,4.3 0,4.3 C-1.8,4.3 -3.0,3.8 -3.6,1.2 C-4.1,-1.5 -3.9,-3.2 -3.3,-4 Z" transform="translate(474.22,450.08) rotate(309.2) scale(1.0)" stroke="#2e2e2e" stroke-width="1.2" vector-effect="non-scaling-stroke" fill="none" stroke-linejoin="round"/>
<path d="M-3.3,-4 L3.3,-4 C3.9,-3.2 4.1,-1.5 3.6,1.2 C3.0,3.8 1.8,4.3 0,4.3 C-1.8,4.3 -3.0,3.8 -3.6,1.2 C-4.1,-1.5 -3.9,-3.2 -3.3,-4 Z" transform="translate(462.75,439.09) rotate(295.1) scale(1.0)" stroke="#2e2e2e" stroke-width="1.2" vector-effect="non-scaling-stroke" fill="none" stroke-linejoin="round"/>
<path d="M-3.3,-4 L3.3,-4 C3.9,-3.2 4.1,-1.5 3.6,1.2 C3.0,3.8 1.8,4.3 0,4.3 C-1.8,4.3 -3.0,3.8 -3.6,1.2 C-4.1,-1.5 -3.9,-3.2 -3.3,-4 Z" transform="translate(471.05,430.21) rotate(318.7) scale(1.0)" stroke="#2e2e2e" stroke-width="1.2" vector-effect="non-scaling-stroke" fill="none" stroke-linejoin="round"/>
<path d="M-3.3,-4 L3.3,-4 C3.9,-3.2 4.1,-1.5 3.6,1.2 C3.0,3.8 1.8,4.3 0,4.3 C-1.8,4.3 -3.0,3.8 -3.6,1.2 C-4.1,-1.5 -3.9,-3.2 -3.3,-4 Z" transform="translate(461.55,417.49) rotate(304.5) scale(1.0)" stroke="#2e2e2e" stroke-width="1.2" vector-effect="non-scaling-stroke" fill="none" stroke-linejoin="round"/>
<path d="M-3.3,-4 L3.3,-4 C3.9,-3.2 4.1,-1.5 3.6,1.2 C3.0,3.8 1.8,4.3 0,4.3 C-1.8,4.3 -3.0,3.8 -3.6,1.2 C-4.1,-1.5 -3.9,-3.2 -3.3,-4 Z" transform="translate(471.19,410.09) rotate(328.1) scale(1.0)" stroke="#2e2e2e" stroke-width="1.2" vector-effect="non-scaling-stroke" fill="none" stroke-linejoin="round"/>
<path d="M-3.3,-4 L3.3,-4 C3.9,-3.2 4.1,-1.5 3.6,1.2 C3.0,3.8 1.8,4.3 0,4.3 C-1.8,4.3 -3.0,3.8 -3.6,1.2 C-4.1,-1.5 -3.9,-3.2 -3.3,-4 Z" transform="translate(463.91,395.98) rotate(314.0) scale(1.0)" stroke="#2e2e2e" stroke-width="1.2" vector-effect="non-scaling-stroke" fill="none" stroke-linejoin="round"/>
<path d="M-3.3,-4 L3.3,-4 C3.9,-3.2 4.1,-1.5 3.6,1.2 C3.0,3.8 1.8,4.3 0,4.3 C-1.8,4.3 -3.0,3.8 -3.6,1.2 C-4.1,-1.5 -3.9,-3.2 -3.3,-4 Z" transform="translate(474.64,390.28) rotate(337.6) scale(1.0)" stroke="#2e2e2e" stroke-width="1.2" vector-effect="non-scaling-stroke" fill="none" stroke-linejoin="round"/>
<path d="M-3.3,-4 L3.3,-4 C3.9,-3.2 4.1,-1.5 3.6,1.2 C3.0,3.8 1.8,4.3 0,4.3 C-1.8,4.3 -3.0,3.8 -3.6,1.2 C-4.1,-1.5 -3.9,-3.2 -3.3,-4 Z" transform="translate(469.78,375.16) rotate(323.5) scale(1.0)" stroke="#2e2e2e" stroke-width="1.2" vector-effect="non-scaling-stroke" fill="none" stroke-linejoin="round"/>
<path d="M-3.3,-4 L3.3,-4 C3.9,-3.2 4.1,-1.5 3.6,1.2 C3.0,3.8 1.8,4.3 0,4.3 C-1.8,4.3 -3.0,3.8 -3.6,1.2 C-4.1,-1.5 -3.9,-3.2 -3.3,-4 Z" transform="translate(481.30,371.30) rotate(347.1) scale(1.0)" stroke="#2e2e2e" stroke-width="1.2" vector-effect="non-scaling-stroke" fill="none" stroke-linejoin="round"/>
<path d="M-3.3,-4 L3.3,-4 C3.9,-3.2 4.1,-1.5 3.6,1.2 C3.0,3.8 1.8,4.3 0,4.3 C-1.8,4.3 -3.0,3.8 -3.6,1.2 C-4.1,-1.5 -3.9,-3.2 -3.3,-4 Z" transform="translate(479.00,355.58) rotate(333.0) scale(1.0)" stroke="#2e2e2e" stroke-width="1.2" vector-effect="non-scaling-stroke" fill="none" stroke-linejoin="round"/>
<path d="M-3.3,-4 L3.3,-4 C3.9,-3.2 4.1,-1.5 3.6,1.2 C3.0,3.8 1.8,4.3 0,4.3 C-1.8,4.3 -3.0,3.8 -3.6,1.2 C-4.1,-1.5 -3.9,-3.2 -3.3,-4 Z" transform="translate(491.00,353.67) rotate(356.6) scale(1.0)" stroke="#2e2e2e" stroke-width="1.2" vector-effect="non-scaling-stroke" fill="none" stroke-linejoin="round"/>
<path d="M-3.3,-4 L3.3,-4 C3.9,-3.2 4.1,-1.5 3.6,1.2 C3.0,3.8 1.8,4.3 0,4.3 C-1.8,4.3 -3.0,3.8 -3.6,1.2 C-4.1,-1.5 -3.9,-3.2 -3.3,-4 Z" transform="translate(491.32,337.79) rotate(342.4) scale(1.0)" stroke="#2e2e2e" stroke-width="1.2" vector-effect="non-scaling-stroke" fill="none" stroke-linejoin="round"/>
<path d="M-3.3,-4 L3.3,-4 C3.9,-3.2 4.1,-1.5 3.6,1.2 C3.0,3.8 1.8,4.3 0,4.3 C-1.8,4.3 -3.0,3.8 -3.6,1.2 C-4.1,-1.5 -3.9,-3.2 -3.3,-4 Z" transform="translate(503.47,337.88) rotate(366.0) scale(1.0)" stroke="#2e2e2e" stroke-width="1.2" vector-effect="non-scaling-stroke" fill="none" stroke-linejoin="round"/>
<path d="M-3.3,-4 L3.3,-4 C3.9,-3.2 4.1,-1.5 3.6,1.2 C3.0,3.8 1.8,4.3 0,4.3 C-1.8,4.3 -3.0,3.8 -3.6,1.2 C-4.1,-1.5 -3.9,-3.2 -3.3,-4 Z" transform="translate(506.39,322.28) rotate(351.9) scale(1.0)" stroke="#2e2e2e" stroke-width="1.2" vector-effect="non-scaling-stroke" fill="none" stroke-linejoin="round"/>
<path d="M-3.3,-4 L3.3,-4 C3.9,-3.2 4.1,-1.5 3.6,1.2 C3.0,3.8 1.8,4.3 0,4.3 C-1.8,4.3 -3.0,3.8 -3.6,1.2 C-4.1,-1.5 -3.9,-3.2 -3.3,-4 Z" transform="translate(518.36,324.36) rotate(375.5) scale(1.0)" stroke="#2e2e2e" stroke-width="1.2" vector-effect="non-scaling-stroke" fill="none" stroke-linejoin="round"/>
<path d="M-3.3,-4 L3.3,-4 C3.9,-3.2 4.1,-1.5 3.6,1.2 C3.0,3.8 1.8,4.3 0,4.3 C-1.8,4.3 -3.0,3.8 -3.6,1.2 C-4.1,-1.5 -3.9,-3.2 -3.3,-4 Z" transform="translate(523.82,309.45) rotate(361.4) scale(1.0)" stroke="#2e2e2e" stroke-width="1.2" vector-effect="non-scaling-stroke" fill="none" stroke-linejoin="round"/>
<path d="M-3.3,-4 L3.3,-4 C3.9,-3.2 4.1,-1.5 3.6,1.2 C3.0,3.8 1.8,4.3 0,4.3 C-1.8,4.3 -3.0,3.8 -3.6,1.2 C-4.1,-1.5 -3.9,-3.2 -3.3,-4 Z" transform="translate(535.28,313.48) rotate(385.0) scale(1.0)" stroke="#2e2e2e" stroke-width="1.2" vector-effect="non-scaling-stroke" fill="none" stroke-linejoin="round"/>
<path d="M-3.3,-4 L3.3,-4 C3.9,-3.2 4.1,-1.5 3.6,1.2 C3.0,3.8 1.8,4.3 0,4.3 C-1.8,4.3 -3.0,3.8 -3.6,1.2 C-4.1,-1.5 -3.9,-3.2 -3.3,-4 Z" transform="translate(543.11,299.67) rotate(370.9) scale(1.0)" stroke="#2e2e2e" stroke-width="1.2" vector-effect="non-scaling-stroke" fill="none" stroke-linejoin="round"/>
<path d="M-3.3,-4 L3.3,-4 C3.9,-3.2 4.1,-1.5 3.6,1.2 C3.0,3.8 1.8,4.3 0,4.3 C-1.8,4.3 -3.0,3.8 -3.6,1.2 C-4.1,-1.5 -3.9,-3.2 -3.3,-4 Z" transform="translate(553.76,305.53) rotate(394.5) scale(1.0)" stroke="#2e2e2e" stroke-width="1.2" vector-effect="non-scaling-stroke" fill="none" stroke-linejoin="round"/>
<path d="M-3.3,-4 L3.3,-4 C3.9,-3.2 4.1,-1.5 3.6,1.2 C3.0,3.8 1.8,4.3 0,4.3 C-1.8,4.3 -3.0,3.8 -3.6,1.2 C-4.1,-1.5 -3.9,-3.2 -3.3,-4 Z" transform="translate(563.76,293.19) rotate(380.3) scale(1.0)" stroke="#2e2e2e" stroke-width="1.2" vector-effect="non-scaling-stroke" fill="none" stroke-linejoin="round"/>
<path d="M-3.3,-4 L3.3,-4 C3.9,-3.2 4.1,-1.5 3.6,1.2 C3.0,3.8 1.8,4.3 0,4.3 C-1.8,4.3 -3.0,3.8 -3.6,1.2 C-4.1,-1.5 -3.9,-3.2 -3.3,-4 Z" transform="translate(573.29,300.72) rotate(403.9) scale(1.0)" stroke="#2e2e2e" stroke-width="1.2" vector-effect="non-scaling-stroke" fill="none" stroke-linejoin="round"/>
<circle cx="592.50" cy="421.00" r="70.60" stroke="#2e2e2e" stroke-width="1.3" fill="none" />
<circle cx="592.50" cy="421.00" r="68.40" stroke="#2e2e2e" stroke-width="1" fill="none" />
<circle cx="592.5" cy="421" r="61.3" stroke="#2e2e2e" stroke-width="1" fill="none" stroke-dasharray="43.4,5.9,9,5.9" stroke-dashoffset="53.8"/>
<circle cx="592.50" cy="421.00" r="54.20" stroke="#2e2e2e" stroke-width="1" fill="none" />
<circle cx="592.50" cy="421.00" r="52.10" stroke="#2e2e2e" stroke-width="1" fill="none" />
<path d="M-7.5,0 A7.5,7.5 0 0 1 7.5,0" transform="translate(629.34,384.16) rotate(225)" stroke="#2e2e2e" stroke-width="1" fill="none"/>
<path d="M-7.5,0 A7.5,7.5 0 0 1 7.5,0" transform="translate(629.34,457.84) rotate(315)" stroke="#2e2e2e" stroke-width="1" fill="none"/>
<path d="M-7.5,0 A7.5,7.5 0 0 1 7.5,0" transform="translate(555.66,457.84) rotate(405)" stroke="#2e2e2e" stroke-width="1" fill="none"/>
<path d="M-7.5,0 A7.5,7.5 0 0 1 7.5,0" transform="translate(555.66,384.16) rotate(495)" stroke="#2e2e2e" stroke-width="1" fill="none"/>
<line x1="608.06" y1="405.44" x2="623.61" y2="389.89" stroke="#2e2e2e" stroke-width="1" />
<line x1="608.06" y1="436.56" x2="623.61" y2="452.11" stroke="#2e2e2e" stroke-width="1" />
<line x1="576.94" y1="436.56" x2="561.39" y2="452.11" stroke="#2e2e2e" stroke-width="1" />
<line x1="576.94" y1="405.44" x2="561.39" y2="389.89" stroke="#2e2e2e" stroke-width="1" />
<circle cx="592.50" cy="421.00" r="22.40" stroke="#2e2e2e" stroke-width="0.8" fill="none" />
<circle cx="592.50" cy="421.00" r="20.20" stroke="#2e2e2e" stroke-width="0.8" fill="none" />
<circle cx="592.50" cy="421.00" r="17.80" stroke="#1a1a1a" stroke-width="1.5" fill="none" />
<circle cx="592.50" cy="421.00" r="12.80" stroke="#2e2e2e" stroke-width="1" fill="none" />
<line x1="576.90" y1="405.40" x2="608.10" y2="436.60" stroke="#2e2e2e" stroke-width="1" />
<line x1="576.90" y1="436.60" x2="608.10" y2="405.40" stroke="#2e2e2e" stroke-width="1" />
<circle cx="636.34" cy="377.16" r="3.75" stroke="#222" stroke-width="1.5" fill="#fff" />
<circle cx="636.34" cy="464.84" r="3.75" stroke="#222" stroke-width="1.5" fill="#fff" />
<circle cx="548.66" cy="464.84" r="3.75" stroke="#222" stroke-width="1.5" fill="#fff" />
<circle cx="548.66" cy="377.16" r="3.75" stroke="#222" stroke-width="1.5" fill="#fff" />
<line x1="537.20" y1="365.60" x2="552.00" y2="380.50" stroke="#2e2e2e" stroke-width="1" />
<line x1="539.70" y1="390.30" x2="746.25" y2="511.80" stroke="#2e2e2e" stroke-width="1" />
<line x1="745.60" y1="512.50" x2="785.60" y2="512.50" stroke="#2e2e2e" stroke-width="1" />
<line x1="636.25" y1="377.20" x2="688.25" y2="288.50" stroke="#2e2e2e" stroke-width="1" />
<line x1="688.25" y1="288.50" x2="761.00" y2="288.50" stroke="#2e2e2e" stroke-width="1" />
<circle cx="592.50" cy="338.00" r="12.60" stroke="#2e2e2e" stroke-width="1" fill="#fff" />
<g transform="translate(592.50,338.00) rotate(0)"><polygon points="0.00,-7.40 6.41,-3.70 6.41,3.70 0.00,7.40 -6.41,3.70 -6.41,-3.70" stroke="#222" stroke-width="1.3" fill="none" stroke-linejoin="round"/><line x1="0" y1="-12" x2="0" y2="12" stroke="#2e2e2e" stroke-width="1"/><line x1="-10.7" y1="0" x2="10.7" y2="0" stroke="#2e2e2e" stroke-width="1"/></g>
<circle cx="671.44" cy="395.35" r="12.60" stroke="#2e2e2e" stroke-width="1" fill="#fff" />
<g transform="translate(671.44,395.35) rotate(72)"><polygon points="0.00,-7.40 6.41,-3.70 6.41,3.70 0.00,7.40 -6.41,3.70 -6.41,-3.70" stroke="#222" stroke-width="1.3" fill="none" stroke-linejoin="round"/><line x1="0" y1="-12" x2="0" y2="12" stroke="#2e2e2e" stroke-width="1"/><line x1="-10.7" y1="0" x2="10.7" y2="0" stroke="#2e2e2e" stroke-width="1"/></g>
<circle cx="513.56" cy="395.35" r="12.60" stroke="#2e2e2e" stroke-width="1" fill="#fff" />
<g transform="translate(513.56,395.35) rotate(-72)"><polygon points="0.00,-7.40 6.41,-3.70 6.41,3.70 0.00,7.40 -6.41,3.70 -6.41,-3.70" stroke="#222" stroke-width="1.3" fill="none" stroke-linejoin="round"/><line x1="0" y1="-12" x2="0" y2="12" stroke="#2e2e2e" stroke-width="1"/><line x1="-10.7" y1="0" x2="10.7" y2="0" stroke="#2e2e2e" stroke-width="1"/></g>
<circle cx="641.29" cy="488.15" r="12.60" stroke="#2e2e2e" stroke-width="1" fill="#fff" />
<g transform="translate(641.29,488.15) rotate(144)"><polygon points="0.00,-7.40 6.41,-3.70 6.41,3.70 0.00,7.40 -6.41,3.70 -6.41,-3.70" stroke="#222" stroke-width="1.3" fill="none" stroke-linejoin="round"/><line x1="0" y1="-12" x2="0" y2="12" stroke="#2e2e2e" stroke-width="1"/><line x1="-10.7" y1="0" x2="10.7" y2="0" stroke="#2e2e2e" stroke-width="1"/></g>
<circle cx="543.71" cy="488.15" r="12.60" stroke="#2e2e2e" stroke-width="1" fill="#fff" />
<g transform="translate(543.71,488.15) rotate(216)"><polygon points="0.00,-7.40 6.41,-3.70 6.41,3.70 0.00,7.40 -6.41,3.70 -6.41,-3.70" stroke="#222" stroke-width="1.3" fill="none" stroke-linejoin="round"/><line x1="0" y1="-12" x2="0" y2="12" stroke="#2e2e2e" stroke-width="1"/><line x1="-10.7" y1="0" x2="10.7" y2="0" stroke="#2e2e2e" stroke-width="1"/></g>
<circle cx="581.90" cy="390.60" r="6.60" stroke="#2e2e2e" stroke-width="1" fill="none" />
<path d="M581.9,386.6 L581.9,390.2 M578.1,390.4 L585.7,390.4 M579.3,391.9 L584.5,391.9 M580.3,393.3 L583.5,393.3" stroke="#555" stroke-width="1" fill="none" />
<path d="M577.5,460.6 L608.1,460.6 L608.1,490 L603.9,591.5 L582.6,591.5 L578.0,490 L577.5,490 Z" stroke="#2e2e2e" stroke-width="1" fill="#fff" />
<path d="M578.2,490 L578.2,479 C578.2,470 584,465 592.8,465 C601.6,465 607.9,470 607.9,479 L607.9,490" stroke="#2e2e2e" stroke-width="1" fill="none" />
<path d="M578.2,480.61 A61.3,61.3 0 0 0 607.9,480.33" stroke="#2e2e2e" stroke-width="1" fill="none" />
<rect x="586.50" y="591.50" width="15.00" height="18.75" rx="0" stroke="#2e2e2e" stroke-width="1" fill="none"/>
<path d="M591.75,610 Q592.5,620 584,628 Q579.3,634 579.3,652" stroke="#222" stroke-width="1.4" fill="none" />
<path d="M593.7,610 Q593,622 589,632 Q586.5,640 586.5,652" stroke="#222" stroke-width="1.4" fill="none" />
<path d="M595.8,610 Q596,620 598,632 Q599.25,640 599.25,652" stroke="#222" stroke-width="1.4" fill="none" />
<path d="M597.75,610 Q598.5,618 603,626 Q606.4,634 606.4,652" stroke="#222" stroke-width="1.4" fill="none" />
<line x1="442.00" y1="420.50" x2="485.00" y2="420.50" stroke="#2e2e2e" stroke-width="1" />
<line x1="491.00" y1="420.50" x2="500.00" y2="420.50" stroke="#2e2e2e" stroke-width="1" />
<line x1="507.00" y1="420.50" x2="550.00" y2="420.50" stroke="#2e2e2e" stroke-width="1" />
<line x1="556.00" y1="420.50" x2="564.00" y2="420.50" stroke="#2e2e2e" stroke-width="1" />
<line x1="570.00" y1="420.50" x2="615.00" y2="420.50" stroke="#2e2e2e" stroke-width="1" />
<line x1="621.00" y1="420.50" x2="629.00" y2="420.50" stroke="#2e2e2e" stroke-width="1" />
<line x1="635.00" y1="420.50" x2="680.00" y2="420.50" stroke="#2e2e2e" stroke-width="1" />
<line x1="686.00" y1="420.50" x2="695.00" y2="420.50" stroke="#2e2e2e" stroke-width="1" />
<line x1="701.00" y1="420.50" x2="747.50" y2="420.50" stroke="#2e2e2e" stroke-width="1" />
<line x1="592.50" y1="260.00" x2="592.50" y2="300.00" stroke="#2e2e2e" stroke-width="1" />
<line x1="592.50" y1="308.00" x2="592.50" y2="317.00" stroke="#2e2e2e" stroke-width="1" />
<line x1="592.50" y1="323.00" x2="592.50" y2="381.70" stroke="#2e2e2e" stroke-width="1" />
<line x1="592.50" y1="385.00" x2="592.50" y2="438.50" stroke="#2e2e2e" stroke-width="1" />
<line x1="592.50" y1="443.70" x2="592.50" y2="495.00" stroke="#2e2e2e" stroke-width="1" />
<line x1="592.50" y1="499.00" x2="592.50" y2="514.00" stroke="#2e2e2e" stroke-width="1" />
<line x1="592.50" y1="520.00" x2="592.50" y2="550.00" stroke="#2e2e2e" stroke-width="1" />
<path d="M555,253.5 L566.5,242.5 L568.1,248.1 Q582.5,246 600.6,246 L608.75,242.75 L630.6,247.25 L619.75,251 L626,260.6 L608.1,256.25 L601.25,251 Q582.5,250.5 570.6,253.1 L570.6,259.4 Z" stroke="#2e2e2e" stroke-width="1.1" fill="none" stroke-linejoin="miter"/>
<text x="533.20" y="227.75" font-size="14.6" font-family="Liberation Sans, sans-serif" fill="#1e1e1e" stroke="#1e1e1e" stroke-width="0.3" textLength="109.5" lengthAdjust="spacing" >rotation direction</text>
<text x="720.20" y="284.00" font-size="13.6" font-family="Liberation Sans, sans-serif" fill="#1e1e1e" stroke="#1e1e1e" stroke-width="0.3" textLength="31" lengthAdjust="spacing" >4-M6</text>
<text x="710.10" y="305.75" font-size="14" font-family="Liberation Sans, sans-serif" fill="#1e1e1e" stroke="#1e1e1e" stroke-width="0.3" textLength="52.5" lengthAdjust="spacing" >depth12</text>
<text x="760.60" y="505.30" font-size="14" font-family="Liberation Sans, sans-serif" fill="#1e1e1e" stroke="#1e1e1e" stroke-width="0.3" textLength="24.8" lengthAdjust="spacing" >ϕ90</text>
</svg></body></html>
